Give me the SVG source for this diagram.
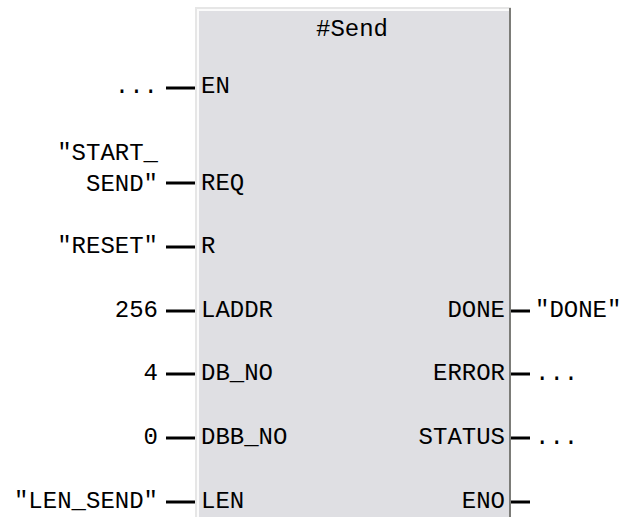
<svg xmlns="http://www.w3.org/2000/svg" width="623" height="517" viewBox="0 0 623 517">
<style>
text{font-family:"Liberation Mono","Courier New",monospace;font-size:24px;fill:#000}
.r{text-anchor:end}
.pin{stroke:#000;stroke-width:3}
</style>
<rect width="623" height="517" fill="#fff"/>
<g id="block">
<rect x="195" y="7" width="316" height="512" fill="#e6e6e6"/>
<rect x="197" y="9" width="313" height="510" fill="#fbfbfb"/>
<rect x="199" y="11" width="310" height="508" fill="#dfdfe3"/>
<line x1="510" y1="8" x2="510" y2="517" stroke="#7c7c78" stroke-width="2"/>
<text x="316" y="36">#Send</text>
<text x="201" y="93">EN</text>
<text x="201" y="190">REQ</text>
<text x="201" y="253">R</text>
<text x="201" y="317">LADDR</text>
<text x="201" y="380">DB_NO</text>
<text x="201" y="444">DBB_NO</text>
<text x="201" y="508">LEN</text>
<text class="r" x="505" y="317">DONE</text>
<text class="r" x="505" y="380">ERROR</text>
<text class="r" x="505" y="444">STATUS</text>
<text class="r" x="505" y="508">ENO</text>
</g>
<g id="connectors">
<line class="pin" x1="166" y1="88" x2="195" y2="88"/>
<line class="pin" x1="166" y1="183" x2="195" y2="183"/>
<line class="pin" x1="166" y1="247" x2="195" y2="247"/>
<line class="pin" x1="166" y1="311" x2="195" y2="311"/>
<line class="pin" x1="166" y1="374" x2="195" y2="374"/>
<line class="pin" x1="166" y1="438" x2="195" y2="438"/>
<line class="pin" x1="166" y1="502" x2="195" y2="502"/>
<line class="pin" x1="511" y1="311" x2="530" y2="311"/>
<line class="pin" x1="511" y1="374" x2="530" y2="374"/>
<line class="pin" x1="511" y1="438" x2="530" y2="438"/>
<line class="pin" x1="511" y1="502" x2="530" y2="502"/>
</g>
<g id="operands">
<text class="r" x="158" y="93">...</text>
<text class="r" x="158" y="160">"START_</text>
<text class="r" x="158" y="191">SEND"</text>
<text class="r" x="158" y="253">"RESET"</text>
<text class="r" x="158" y="317">256</text>
<text class="r" x="158" y="380">4</text>
<text class="r" x="158" y="444">0</text>
<text class="r" x="158" y="508">"LEN_SEND"</text>
<text x="535" y="317">"DONE"</text>
<text x="535" y="380">...</text>
<text x="535" y="444">...</text>
</g>
</svg>
